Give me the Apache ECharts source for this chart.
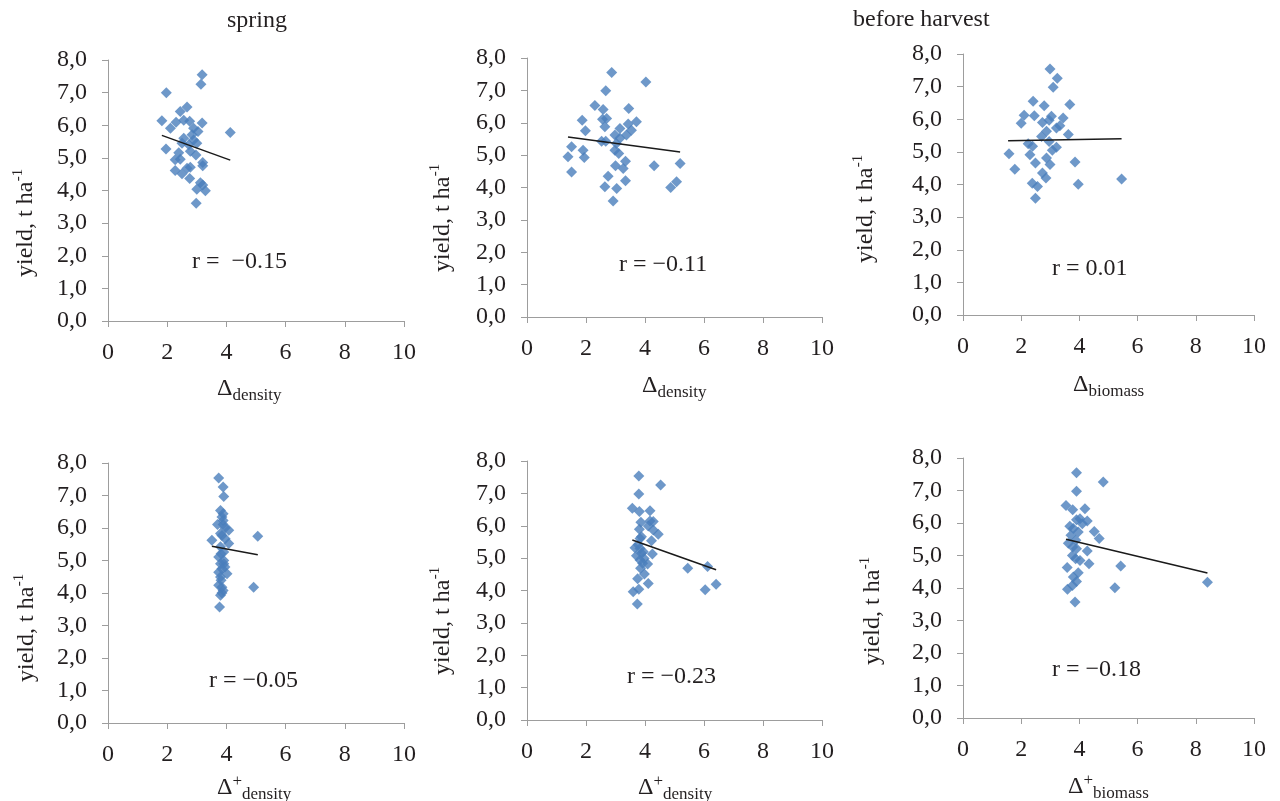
<!DOCTYPE html>
<html><head><meta charset="utf-8">
<script src="https://cdn.jsdelivr.net/npm/echarts@6/dist/echarts.min.js"></script>
<style>html,body{margin:0;padding:0;background:#fff}#c{width:1280px;height:801px}</style>
</head><body><div id="c"></div>
<script>
// ---- data: [delta, yield t/ha] ----
const densityA = [[3.18,7.55],[3.14,7.26],[1.97,7.0],[2.67,6.56],[2.44,6.42],[1.82,6.14],[2.30,6.09],[2.56,6.15],[2.76,6.12],[3.18,6.07],[2.11,5.91],[2.89,5.91],[3.04,5.81],[4.13,5.78],[2.84,5.71],[2.56,5.6],[2.89,5.55],[2.5,5.45],[2.73,5.4],[3.0,5.45],[1.96,5.27],[2.78,5.2],[2.39,5.16],[2.97,5.09],[2.44,4.96],[2.27,4.94],[3.2,4.86],[3.2,4.76],[2.78,4.71],[2.67,4.68],[2.27,4.61],[2.5,4.51],[2.76,4.37],[3.12,4.24],[3.2,4.17],[3.0,4.04],[3.29,3.99],[2.98,3.61]];
const densityB = [[2.87,7.55],[4.03,7.26],[2.67,6.99],[2.3,6.53],[2.58,6.41],[3.45,6.44],[1.87,6.08],[2.56,6.11],[2.7,6.13],[3.71,6.03],[3.43,5.96],[2.64,5.88],[1.98,5.75],[3.15,5.82],[3.54,5.77],[2.98,5.62],[3.37,5.62],[3.15,5.52],[2.53,5.43],[2.67,5.43],[3.03,5.36],[1.51,5.26],[2.98,5.15],[1.9,5.15],[3.11,5.05],[1.39,4.95],[1.94,4.93],[3.34,4.81],[5.19,4.74],[3.0,4.67],[4.31,4.67],[3.26,4.59],[1.51,4.48],[2.75,4.35],[3.34,4.21],[5.07,4.18],[2.64,4.02],[4.87,4.0],[3.04,3.97],[2.92,3.58]];
const biomass = [[2.99,7.54],[3.24,7.26],[3.1,6.98],[2.41,6.55],[2.79,6.41],[3.67,6.45],[2.1,6.12],[2.45,6.11],[3.04,6.09],[3.44,6.04],[2.0,5.88],[2.73,5.9],[2.96,5.97],[3.33,5.8],[3.21,5.73],[2.87,5.63],[3.62,5.53],[2.7,5.47],[2.96,5.32],[2.24,5.25],[2.39,5.17],[3.21,5.14],[3.07,5.05],[1.58,4.94],[2.3,4.91],[2.87,4.81],[3.85,4.69],[2.49,4.66],[2.99,4.61],[1.78,4.47],[2.73,4.35],[2.85,4.2],[5.45,4.17],[2.38,4.04],[3.96,4.01],[2.56,3.94],[2.49,3.58]];
const densityPlusA = [[3.74,7.54],[3.89,7.26],[3.91,6.97],[3.8,6.54],[3.89,6.44],[3.85,6.34],[3.89,6.23],[3.7,6.11],[3.89,6.11],[3.96,6.01],[4.08,5.93],[3.8,5.83],[5.06,5.75],[3.85,5.77],[3.96,5.67],[3.51,5.62],[4.08,5.52],[3.8,5.42],[3.91,5.26],[3.82,5.21],[3.74,5.11],[3.91,5.0],[3.8,4.9],[3.91,4.9],[3.95,4.8],[3.85,4.75],[3.74,4.64],[4.02,4.59],[3.8,4.49],[3.82,4.39],[3.74,4.24],[4.92,4.18],[3.85,4.18],[3.89,4.08],[3.85,4.0],[3.8,3.93],[3.77,3.57]];
const densityPlusB = [[3.79,7.54],[4.53,7.26],[3.79,6.98],[3.57,6.54],[3.81,6.44],[4.17,6.46],[3.86,6.11],[4.17,6.15],[4.28,6.13],[4.11,5.99],[3.81,5.89],[4.28,5.87],[4.45,5.74],[3.88,5.66],[3.83,5.61],[4.22,5.54],[3.77,5.41],[3.66,5.32],[3.83,5.3],[3.94,5.2],[3.88,5.15],[4.25,5.13],[3.71,5.07],[3.97,4.99],[3.83,4.94],[3.92,4.84],[4.09,4.82],[3.85,4.69],[5.45,4.69],[6.12,4.74],[3.98,4.51],[3.75,4.36],[4.11,4.22],[6.41,4.19],[6.04,4.02],[3.79,4.04],[3.6,3.96],[3.74,3.58]];
const biomassPlus = [[3.9,7.55],[4.82,7.26],[3.9,6.98],[3.54,6.54],[3.77,6.41],[4.19,6.44],[4.02,6.13],[3.9,6.1],[4.27,6.06],[4.1,5.98],[3.67,5.9],[3.79,5.83],[4.51,5.74],[3.96,5.72],[3.71,5.62],[4.68,5.52],[3.88,5.47],[3.62,5.38],[3.77,5.26],[3.9,5.21],[4.27,5.14],[3.76,5.0],[3.87,4.9],[4.02,4.85],[4.33,4.75],[5.42,4.68],[3.58,4.63],[3.96,4.47],[3.79,4.34],[3.9,4.2],[8.4,4.18],[5.22,4.01],[3.76,4.08],[3.59,3.96],[3.85,3.57]];

// regression line end points
const trendDensityA = [[1.82,5.69],[4.13,4.93]];
const trendDensityB = [[1.39,5.56],[5.19,5.10]];
const trendBiomass = [[1.55,5.34],[5.45,5.40]];
const trendDensityPlusA = [[3.51,5.44],[5.06,5.18]];
const trendDensityPlusB = [[3.57,5.56],[6.41,4.64]];
const trendBiomassPlus = [[3.54,5.50],[8.4,4.46]];

const rLabels = ['r =  \u22120.15','r = \u22120.11','r = 0.01','r = \u22120.05','r = \u22120.23','r = \u22120.18'];
const xSubs = ['density','density','biomass','density','density','biomass'];
const xPlus = [false,false,false,true,true,true];
const yTickLabels = ['0,0','1,0','2,0','3,0','4,0','5,0','6,0','7,0','8,0'];
const xTickLabels = ['0','2','4','6','8','10'];
const titles = ['spring','before harvest'];

const scatterSets = [densityA,densityB,biomass,densityPlusA,densityPlusB,biomassPlus];
const trendSets = [trendDensityA,trendDensityB,trendBiomass,trendDensityPlusA,trendDensityPlusB,trendBiomassPlus];

// ---- layout ----
const grids = [
  {left:108,top:60,width:296,height:261},
  {left:527,top:58,width:295,height:259},
  {left:963,top:54,width:291,height:261},
  {left:108,top:463,width:296,height:260},
  {left:527,top:461,width:295,height:259},
  {left:963,top:458,width:291,height:260}
];
const yNamePos = [[26,277],[443,272],[866,263],[27,682],[443,675],[873,665]];
const xNamePos = [[217,389],[642,386],[1073,385],[217,788],[638,788],[1068,787]];
const rPos = [[192,262],[619,265],[1052,269],[209,681],[627,677],[1052,670]];

const FONT = '"Liberation Serif", "Times New Roman", serif';
const TXT = '#231f20';
const AX = '#9d9d9d';
const BLUE = '#4a7ebb';

const cv = document.createElement('canvas').getContext('2d');
function tw(s, size){ cv.font = size + 'px ' + FONT; return cv.measureText(s).width; }

const chart = echarts.init(document.getElementById('c'), null, {renderer:'canvas'});
const xAxis = [], yAxis = [], series = [], graphic = [];
grids.forEach((g,i)=>{
  xAxis.push({type:'value',gridIndex:i,min:0,max:10,interval:2,
    axisLine:{show:true,onZero:false,lineStyle:{color:AX,width:1}},
    axisTick:{show:true,inside:false,length:6,lineStyle:{color:AX}},
    splitLine:{show:false},
    axisLabel:{color:TXT,fontFamily:FONT,fontSize:24,margin:20,
      formatter:(v)=>xTickLabels[Math.round(v/2)]}});
  yAxis.push({type:'value',gridIndex:i,min:0,max:8,interval:1,
    axisLine:{show:true,onZero:false,lineStyle:{color:AX,width:1}},
    axisTick:{show:true,inside:false,length:6,lineStyle:{color:AX}},
    splitLine:{show:false},
    axisLabel:{color:TXT,fontFamily:FONT,fontSize:24,margin:21,
      formatter:(v)=>yTickLabels[Math.round(v)]}});
  series.push({type:'scatter',xAxisIndex:i,yAxisIndex:i,data:scatterSets[i],
    symbol:'diamond',symbolSize:11,itemStyle:{color:BLUE},z:3,animation:false});
  series.push({type:'line',xAxisIndex:i,yAxisIndex:i,data:trendSets[i],
    symbol:'none',lineStyle:{color:'#1a1a1a',width:1.5},z:4,animation:false});

  // y axis name (rotated)
  const main = 'yield, t ha';
  const w = tw(main,24);
  graphic.push({type:'group',x:yNamePos[i][0],y:yNamePos[i][1],rotation:Math.PI/2,children:[
    {type:'text',x:0,y:0,style:{text:main,font:'24px '+FONT,fill:TXT,textAlign:'left',textVerticalAlign:'middle'}},
    {type:'text',x:w+0.5,y:-8,style:{text:'-1',font:'15px '+FONT,fill:TXT,textAlign:'left',textVerticalAlign:'middle'}}
  ]});
  // x axis name
  const [ax,ay] = xNamePos[i];
  const dw = tw('\u0394',24);
  graphic.push({type:'text',x:ax,y:ay,style:{text:'\u0394',font:'24px '+FONT,fill:TXT,textAlign:'left',textVerticalAlign:'middle'}});
  let sx = ax+dw;
  if (xPlus[i]) {
    graphic.push({type:'text',x:sx,y:ay-6,style:{text:'+',font:'17px '+FONT,fill:TXT,textAlign:'left',textVerticalAlign:'middle'}});
    sx += tw('+',17);
  }
  graphic.push({type:'text',x:sx,y:ay+7,style:{text:xSubs[i],font:'17px '+FONT,fill:TXT,textAlign:'left',textVerticalAlign:'middle'}});
  // r label
  graphic.push({type:'text',x:rPos[i][0],y:rPos[i][1],style:{text:rLabels[i],font:'24px '+FONT,fill:TXT,textAlign:'left',textVerticalAlign:'middle'}});
});
graphic.push({type:'text',x:257,y:21,style:{text:titles[0],font:'24px '+FONT,fill:TXT,textAlign:'center',textVerticalAlign:'middle'}});
graphic.push({type:'text',x:853,y:20,style:{text:titles[1],font:'24px '+FONT,fill:TXT,textAlign:'left',textVerticalAlign:'middle'}});

chart.setOption({animation:false,backgroundColor:'#fff',
  grid:grids.map(g=>Object.assign({containLabel:false},g)),
  xAxis, yAxis, series, graphic});
</script></body></html>
